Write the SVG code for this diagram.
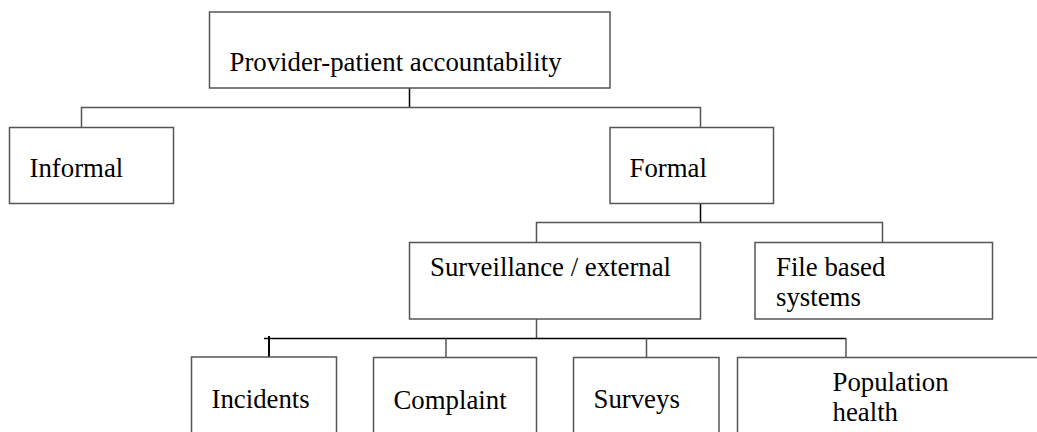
<svg xmlns="http://www.w3.org/2000/svg" width="1037" height="432" viewBox="0 0 1037 432">
<style>
.box{fill:#fff;stroke:#555;stroke-width:1.5}
.t{font-family:"Liberation Serif","Times New Roman",serif;font-size:26.8px;fill:#000}
.c{fill:none;stroke:#555;stroke-width:1.5}
.k{fill:none;stroke:#000;stroke-width:1.5}
</style>
<rect width="1037" height="432" fill="#fff"/>
<g id="connectors">
<path class="k" d="M409.5 88V107.5"/>
<path class="c" d="M81.5 127.5V107.5H700.5V127.5"/>
<path class="k" d="M700.5 203.5V222.5"/>
<path class="c" d="M536.5 242.5V222.5H882.5V242.5"/>
<path class="c" d="M536.5 319V338.5"/>
<path class="k" d="M264 338.5H846"/>
<path class="k" d="M269 336V360" style="stroke-width:2"/>
<path class="c" d="M446 338.5V357.5M646.5 338.5V357.5M846 338.5V357.5"/>
</g>
<g id="n-provider"><rect class="box" x="209.5" y="12" width="400.5" height="76"/><text class="t" x="229.5" y="70.5">Provider-patient accountability</text></g>
<g id="n-informal"><rect class="box" x="9.5" y="127.5" width="164" height="76"/><text class="t" x="29.5" y="176.5">Informal</text></g>
<g id="n-formal"><rect class="box" x="610" y="127.5" width="163.5" height="76"/><text class="t" x="629.5" y="176.5">Formal</text></g>
<g id="n-surveillance"><rect class="box" x="409.5" y="242.5" width="291" height="76.5"/><text class="t" x="430" y="276">Surveillance / external</text></g>
<g id="n-file"><rect class="box" x="755" y="242.5" width="237.5" height="76.5"/><text class="t" x="776" y="276">File based</text><text class="t" x="776" y="306">systems</text></g>
<g id="n-incidents"><rect class="box" x="191.5" y="357" width="145" height="90"/><text class="t" x="211.5" y="407.5">Incidents</text></g>
<g id="n-complaint"><rect class="box" x="373.5" y="357.5" width="163" height="90"/><text class="t" x="393.5" y="409">Complaint</text></g>
<g id="n-surveys"><rect class="box" x="573.5" y="357.5" width="145.5" height="90"/><text class="t" x="593.5" y="407.5">Surveys</text></g>
<g id="n-population"><rect class="box" x="737.5" y="357.5" width="320" height="90"/><text class="t" x="832.5" y="391">Population</text><text class="t" x="832.5" y="420.5">health</text></g>
</svg>
